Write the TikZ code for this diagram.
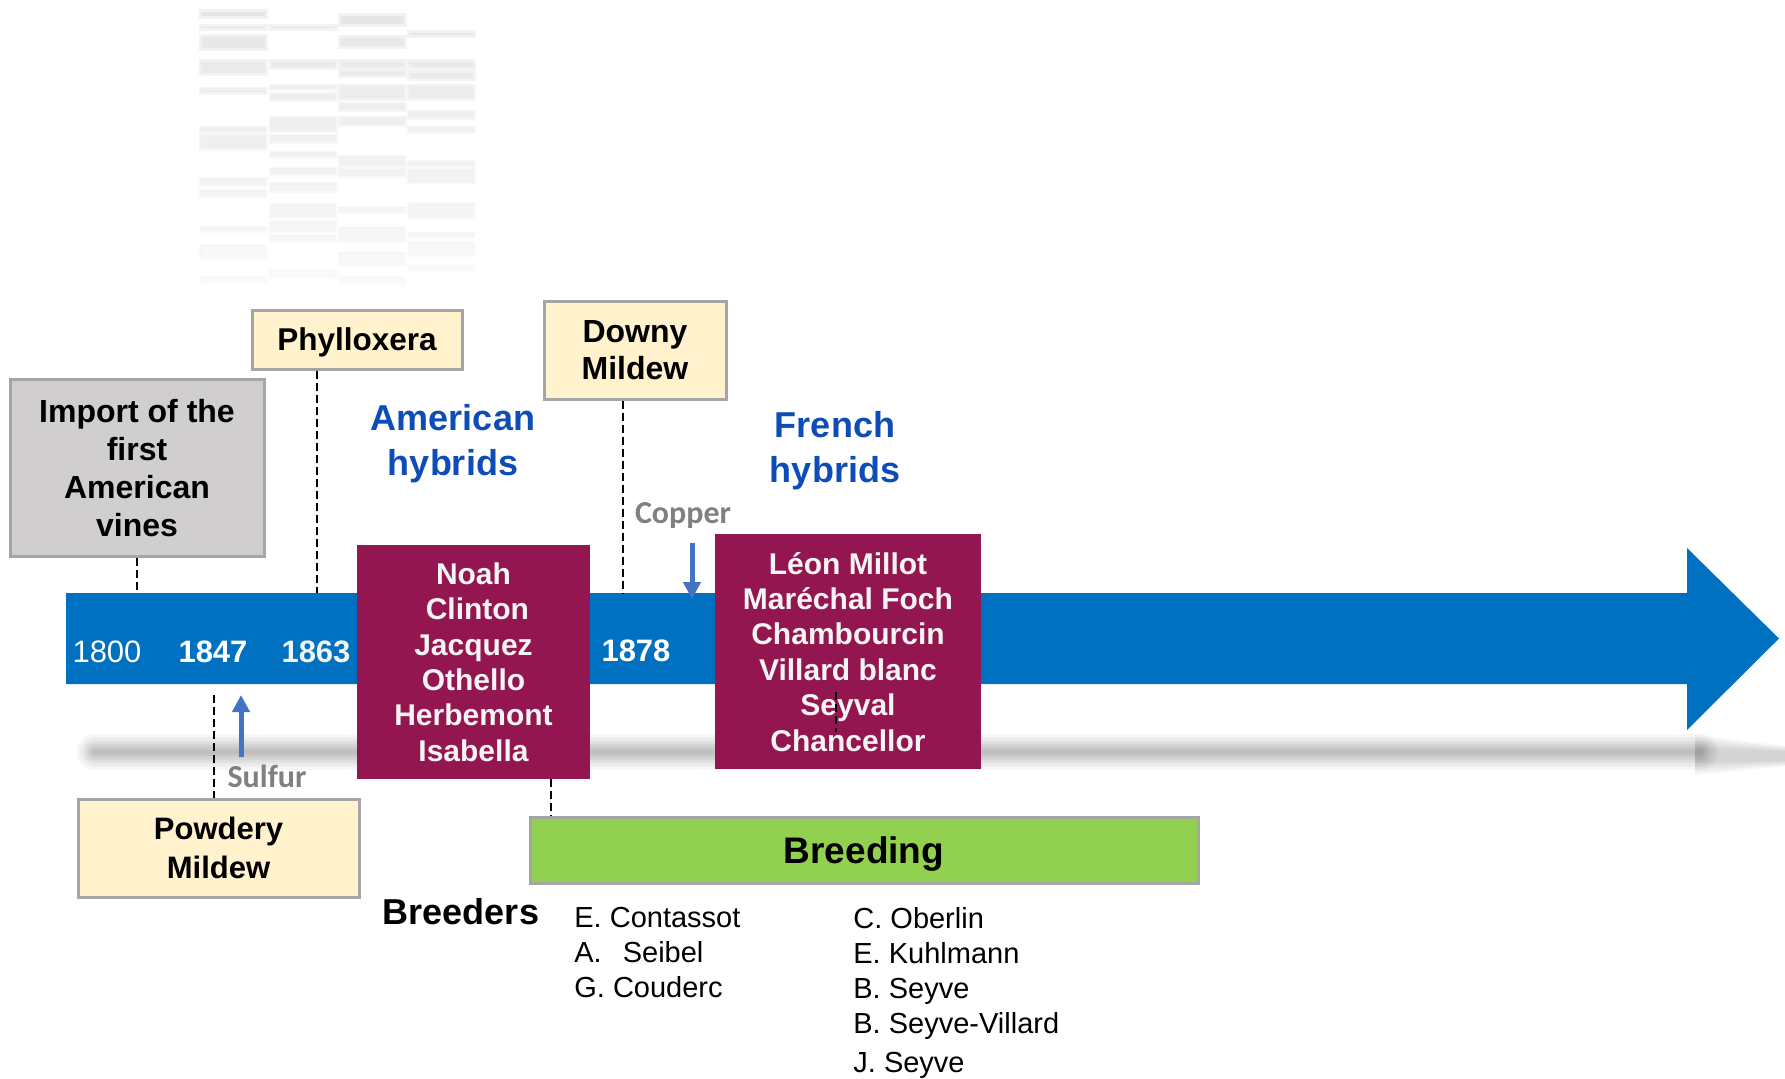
\documentclass[tikz,border=0pt]{standalone}
\usepackage{fontspec}
\setmainfont{Liberation Sans}
\newfontfamily\calibrifont{Carlito}
\usetikzlibrary{arrows.meta}
\newcommand\myfs[2]{\fontsize{#1}{#2}\selectfont}
\definecolor{barblue}{HTML}{0070C0}
\definecolor{maroon}{HTML}{941650}
\definecolor{ylw}{HTML}{FFF2CC}
\definecolor{lgray}{HTML}{D0CECE}
\definecolor{bord}{HTML}{A5A5A5}
\definecolor{grn}{HTML}{92D050}
\definecolor{ttlblue}{RGB}{14,77,184}
\definecolor{arrblue}{HTML}{4472C4}
\definecolor{txtgray}{HTML}{808080}
\definecolor{wtxt}{HTML}{F4F4F4}
\begin{document}
\begin{tikzpicture}[x=0.5pt,y=-0.5pt,
  evbox/.style={draw=bord, line width=1.5pt, align=center, inner sep=0pt, text depth=0pt, font=\bfseries},
  varbox/.style={fill=maroon, align=center, inner sep=0pt, text depth=0pt, text=wtxt, font=\bfseries\myfs{15}{17.7}},
  dsh/.style={draw=black, line width=1.3pt, dash pattern=on 4pt off 2pt},
  yearlbl/.style={anchor=base, text=white, font=\bfseries\myfs{15.5}{18}},
  hybtitle/.style={align=center, text=ttlblue, inner sep=0pt, text depth=0pt, font=\bfseries\myfs{18}{22.5}},
  treatlbl/.style={anchor=base, text=txtgray, font=\calibrifont\bfseries\myfs{16}{18}},
  tarrow/.style={draw=arrblue, line width=2.5pt, -{Triangle[length=8.5pt,width=8.5pt]}},
  brname/.style={anchor=base west, inner sep=0pt, font=\myfs{14.5}{17}},
  tbl/.style={fill=black!10, draw=black!5, line width=1.5pt}
]
\useasboundingbox (0,0) rectangle (1785,1078);

% faded table (blurred picture)
\foreach \xa/\xb/\lst in {
  200/266/{10/17,25/29,35/49,60/74,88/93,127/132,135/149,178/185,190/196,227/231,245/259,277/282},
  270/336/{25/29,60/68,85/89,93/100,117/131,135/142,152/157,168/174,183/191,204/217,221/231,235/241,270/277},
  339/405/{14/25,36/47,60/68,70/76,85/99,103/110,117/125,156/166,169/176,207/212,227/241,252/265,277/283},
  408/474/{31/36,60/68,71/79,85/99,111/118,127/132,161/166,169/182,203/218,233/237,242/255,265/270}}{
  \foreach \ya/\yb in \lst {
    \pgfmathsetmacro\op{max(0.2,1-\ya/340)}
    \path[tbl, fill opacity=\op, draw opacity=\op] (\xa,\ya) rectangle (\xb,\yb);
  }
}

% shadow of the time arrow
\foreach \w in {4,8,12,16,20,24,30,36}{
  \draw[line width=\w*0.5pt, black, opacity=0.035, line cap=round] (95,752) -- (1700,752);
}
\foreach \s in {0,3,6,9,12}{
  \fill[black, opacity=0.035] (1695,{735+\s}) -- (1785,{746+\s*0.4}) -- (1785,{766-\s*0.4}) -- (1695,{775-\s}) -- cycle;
}

% time arrow
\fill[barblue] (66,593) -- (1687,593) -- (1687,548) -- (1779,638.5) -- (1687,730) -- (1687,684) -- (66,684) -- cycle;
\coordinate (barL) at (66,593);
\coordinate (t1800) at (138,593);
\coordinate (t1863) at (317,593);
\coordinate (t1878) at (623,594);
\coordinate (t1847) at (214,695);

% year labels
\node[yearlbl, font=\myfs{15.5}{18}] (y1800) at (107,662) {1800};
\node[yearlbl] (y1847) at (213,662) {1847};
\node[yearlbl, text=wtxt] (y1863) at (316,662) {1863};
\node[yearlbl] (y1878) at (636,661) {1878};

% disease / event boxes
\node[evbox, fill=lgray, minimum width=127pt, minimum height=88.5pt, font=\bfseries\myfs{16}{19}] (imp) at (137,467.5)
  {Import of the\\first\\American\\vines};
\node[evbox, fill=ylw, minimum width=105pt, minimum height=29.5pt, font=\bfseries\myfs{15.75}{19}] (phyl) at (357,339.5) {Phylloxera};
\node[evbox, fill=ylw, minimum width=91pt, minimum height=49pt, font=\bfseries\myfs{16}{18.5}] (downy) at (635,350) {Downy\\Mildew};
\node[evbox, fill=ylw, minimum width=140.5pt, minimum height=49pt, font=\bfseries\myfs{15.5}{19.5}] (powd) at (218.5,848) {Powdery\\Mildew};

% dashed connectors
\draw[dsh] (imp.south) -- (imp.south |- t1800);
\draw[dsh] (phyl.south -| t1863) -- (t1863);
\draw[dsh] (downy.south -| t1878) -- (t1878);
\draw[dsh] (t1847) -- (powd.north -| t1847);

% hybrid titles
\node[hybtitle] (amt) at (453,440) {American\\hybrids};
\node[hybtitle] (frt) at (835,446.5) {French\\hybrids};

% variety boxes
\node[varbox, minimum width=116.5pt, minimum height=117pt] (amv) at (473.5,662)
  {Noah\\\hspace*{0.26em}Clinton\\Jacquez\\Othello\\Herbemont\\Isabella};
\node[varbox, minimum width=133pt, minimum height=117.5pt] (frv) at (848,651.5)
  {Léon Millot\\Maréchal Foch\\Chambourcin\\Villard blanc\\Seyval\\Chancellor};
\coordinate (sv1) at (836,692);
\coordinate (sv2) at (836,732);
\draw[dsh] (sv1) -- (sv2);

% treatments
\node[treatlbl] (copper) at (683,523) {Copper};
\coordinate (cuA) at (692,543);
\coordinate (cuB) at (692,599);
\draw[tarrow] (cuA) -- (cuB);
\node[treatlbl] (sulfur) at (267,787) {Sulfur};
\coordinate (sA) at (241,757);
\coordinate (sB) at (241,695);
\draw[tarrow] (sA) -- (sB);

% breeding
\node[evbox, fill=grn, minimum width=334pt, minimum height=33pt, font=\bfseries\myfs{18.5}{20}] (breed) at (864,850) {Breeding};
\coordinate (bd) at (551,800);
\draw[dsh] (amv.south -| bd) -- (breed.north -| bd);

\node[anchor=base, font=\bfseries\myfs{18}{20}] (breeders) at (461,924) {Breeders};
\node[brname] (n1) at (574,927) {E. Contassot};
\node[brname] (n2) at (574,962) {A.\hspace{10.5pt}Seibel};
\node[brname] (n3) at (574,997) {G. Couderc};
\node[brname] (n4) at (853,928) {C. Oberlin};
\node[brname] (n5) at (853,963) {E. Kuhlmann};
\node[brname] (n6) at (853,998) {B. Seyve};
\node[brname] (n7) at (853,1033) {B. Seyve-Villard};
\node[brname] (n8) at (853,1072) {J. Seyve};
\end{tikzpicture}
\end{document}
